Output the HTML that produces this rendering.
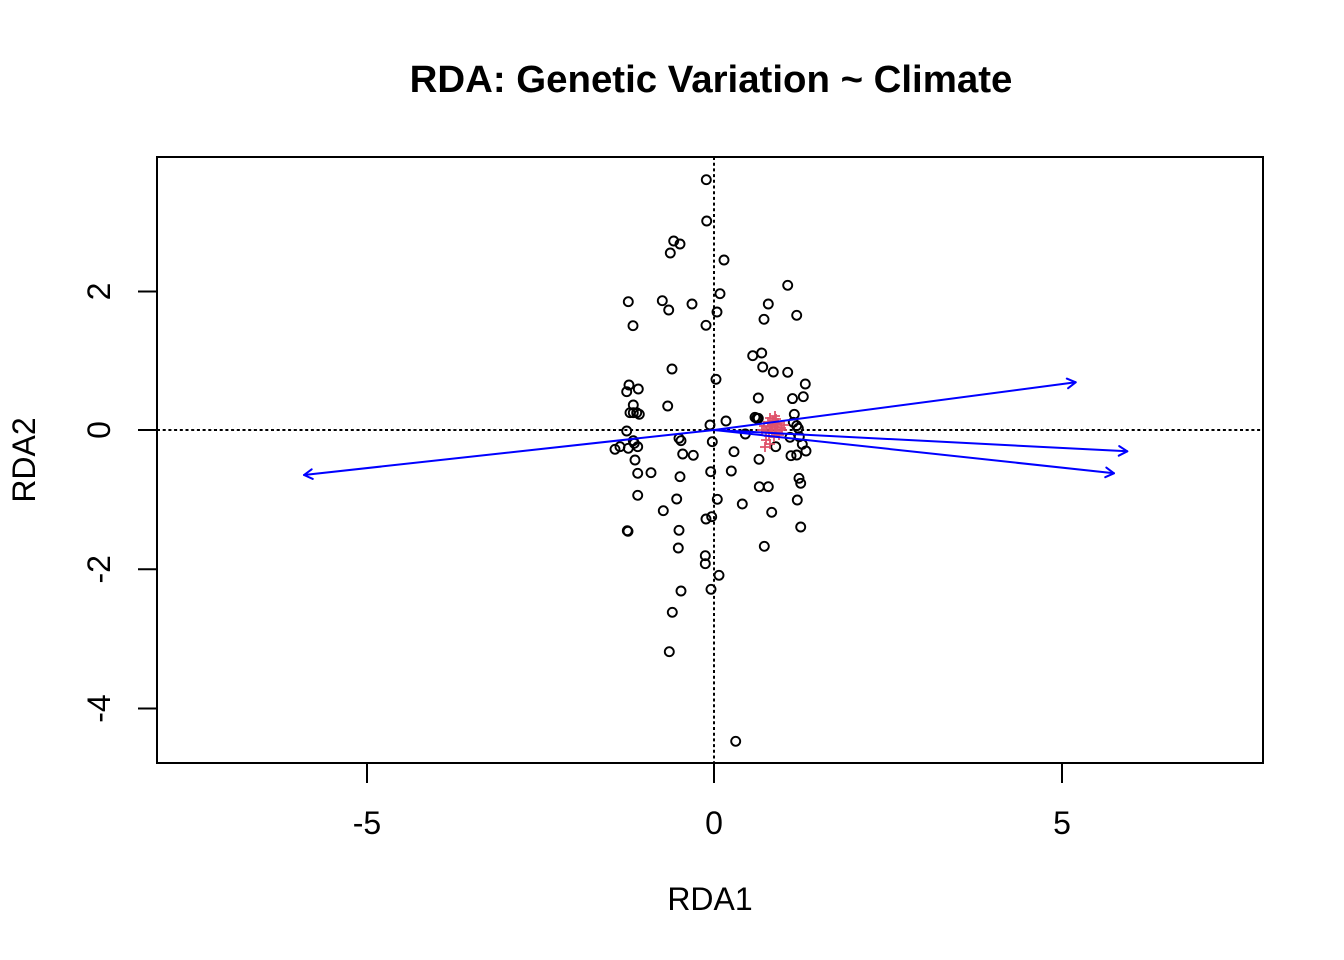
<!DOCTYPE html>
<html>
<head>
<meta charset="utf-8">
<style>
  html, body { margin: 0; padding: 0; background: #ffffff; }
  svg { display: block; }
  text { font-family: "Liberation Sans", Arial, sans-serif; fill: #000; }
</style>
</head>
<body>
<svg width="1344" height="960" viewBox="0 0 1344 960" xmlns="http://www.w3.org/2000/svg">
  <rect x="0" y="0" width="1344" height="960" fill="#ffffff"/>

  <text x="711" y="92" font-size="38.4" font-weight="bold" text-anchor="middle">RDA: Genetic Variation ~ Climate</text>

  <g stroke="#000" stroke-width="2" stroke-dasharray="3 2.7" fill="none">
    <line x1="157" y1="430" x2="1263" y2="430"/>
    <line x1="714" y1="157" x2="714" y2="763"/>
  </g>

  <g fill="none" stroke="#000" stroke-width="1.9">
    <circle cx="706.3" cy="179.7" r="4.5"/>
    <circle cx="706.7" cy="221" r="4.5"/>
    <circle cx="673.7" cy="241" r="4.5"/>
    <circle cx="680" cy="244" r="4.5"/>
    <circle cx="670.3" cy="253" r="4.5"/>
    <circle cx="724" cy="260" r="4.5"/>
    <circle cx="787.7" cy="285.3" r="4.5"/>
    <circle cx="628.3" cy="301.7" r="4.5"/>
    <circle cx="662.3" cy="300.7" r="4.5"/>
    <circle cx="668.7" cy="310" r="4.5"/>
    <circle cx="692" cy="304" r="4.5"/>
    <circle cx="720" cy="293.7" r="4.5"/>
    <circle cx="717" cy="312" r="4.5"/>
    <circle cx="768.3" cy="304" r="4.5"/>
    <circle cx="764" cy="319.3" r="4.5"/>
    <circle cx="796.7" cy="315.3" r="4.5"/>
    <circle cx="633" cy="325.7" r="4.5"/>
    <circle cx="706" cy="325.3" r="4.5"/>
    <circle cx="752.7" cy="355.7" r="4.5"/>
    <circle cx="761.7" cy="353" r="4.5"/>
    <circle cx="672" cy="369" r="4.5"/>
    <circle cx="716" cy="379.3" r="4.5"/>
    <circle cx="762.7" cy="367" r="4.5"/>
    <circle cx="773.3" cy="372" r="4.5"/>
    <circle cx="787.7" cy="372.3" r="4.5"/>
    <circle cx="805.3" cy="384" r="4.5"/>
    <circle cx="803.3" cy="396.7" r="4.5"/>
    <circle cx="792.5" cy="398.6" r="4.5"/>
    <circle cx="758.3" cy="398" r="4.5"/>
    <circle cx="629" cy="385" r="4.5"/>
    <circle cx="626.7" cy="391.7" r="4.5"/>
    <circle cx="638.3" cy="389" r="4.5"/>
    <circle cx="633.3" cy="405" r="4.5"/>
    <circle cx="667.7" cy="406" r="4.5"/>
    <circle cx="630" cy="412.7" r="4.5"/>
    <circle cx="633.3" cy="412.7" r="4.5"/>
    <circle cx="636.7" cy="412.7" r="4.5"/>
    <circle cx="639.3" cy="414.3" r="4.5"/>
    <circle cx="726" cy="421" r="4.5"/>
    <circle cx="755" cy="417.3" r="4.5"/>
    <circle cx="756.7" cy="418.3" r="4.5"/>
    <circle cx="758.3" cy="418.3" r="4.5"/>
    <circle cx="794.3" cy="414.3" r="4.5"/>
    <circle cx="793.3" cy="422.3" r="4.5"/>
    <circle cx="796.7" cy="425.7" r="4.5"/>
    <circle cx="798.3" cy="428.3" r="4.5"/>
    <circle cx="626.7" cy="431" r="4.5"/>
    <circle cx="710" cy="425" r="4.5"/>
    <circle cx="633.3" cy="440.7" r="4.5"/>
    <circle cx="634.3" cy="443.3" r="4.5"/>
    <circle cx="679" cy="438.3" r="4.5"/>
    <circle cx="681" cy="440.7" r="4.5"/>
    <circle cx="745.3" cy="434" r="4.5"/>
    <circle cx="712.3" cy="441.7" r="4.5"/>
    <circle cx="790" cy="437.3" r="4.5"/>
    <circle cx="799.3" cy="436.7" r="4.5"/>
    <circle cx="615" cy="449.3" r="4.5"/>
    <circle cx="620" cy="446.7" r="4.5"/>
    <circle cx="628.3" cy="448.3" r="4.5"/>
    <circle cx="637.7" cy="446.7" r="4.5"/>
    <circle cx="775.7" cy="446.7" r="4.5"/>
    <circle cx="802.3" cy="444.3" r="4.5"/>
    <circle cx="682.7" cy="454" r="4.5"/>
    <circle cx="693.3" cy="455.3" r="4.5"/>
    <circle cx="734" cy="451.7" r="4.5"/>
    <circle cx="759" cy="459.3" r="4.5"/>
    <circle cx="791" cy="455.7" r="4.5"/>
    <circle cx="796.7" cy="455" r="4.5"/>
    <circle cx="806" cy="451" r="4.5"/>
    <circle cx="635" cy="460" r="4.5"/>
    <circle cx="637.7" cy="473.3" r="4.5"/>
    <circle cx="651" cy="472.7" r="4.5"/>
    <circle cx="680" cy="476.7" r="4.5"/>
    <circle cx="710.7" cy="471.7" r="4.5"/>
    <circle cx="731.3" cy="471" r="4.5"/>
    <circle cx="759.3" cy="486.7" r="4.5"/>
    <circle cx="768.3" cy="486.7" r="4.5"/>
    <circle cx="799" cy="478.3" r="4.5"/>
    <circle cx="800.7" cy="483.3" r="4.5"/>
    <circle cx="637.7" cy="495.3" r="4.5"/>
    <circle cx="676.7" cy="499" r="4.5"/>
    <circle cx="717.3" cy="499.3" r="4.5"/>
    <circle cx="742.3" cy="504" r="4.5"/>
    <circle cx="797.3" cy="500" r="4.5"/>
    <circle cx="663.3" cy="510.7" r="4.5"/>
    <circle cx="706" cy="519" r="4.5"/>
    <circle cx="711.7" cy="516.7" r="4.5"/>
    <circle cx="771.7" cy="512.3" r="4.5"/>
    <circle cx="800.7" cy="527" r="4.5"/>
    <circle cx="627.3" cy="530.7" r="4.5"/>
    <circle cx="628" cy="531.3" r="4.5"/>
    <circle cx="679" cy="530.3" r="4.5"/>
    <circle cx="678.3" cy="548" r="4.5"/>
    <circle cx="764.3" cy="546.3" r="4.5"/>
    <circle cx="705.3" cy="555.7" r="4.5"/>
    <circle cx="705.3" cy="563.7" r="4.5"/>
    <circle cx="719" cy="575.3" r="4.5"/>
    <circle cx="681" cy="591" r="4.5"/>
    <circle cx="711" cy="589.3" r="4.5"/>
    <circle cx="672.3" cy="612.3" r="4.5"/>
    <circle cx="669.3" cy="651.7" r="4.5"/>
    <circle cx="735.7" cy="741.3" r="4.5"/>
  </g>

  <g stroke="#DF536B" stroke-width="1.8" fill="none">
    <path d="M765 418h10M770 413v10"/>
    <path d="M770 416h10M775 411v10"/>
    <path d="M763 422h10M768 417v10"/>
    <path d="M768 421h10M773 416v10"/>
    <path d="M773 423h10M778 418v10"/>
    <path d="M759 426h10M764 421v10"/>
    <path d="M765 427h10M770 422v10"/>
    <path d="M770 427h10M775 422v10"/>
    <path d="M776 428h10M781 423v10"/>
    <path d="M761 431h10M766 426v10"/>
    <path d="M767 432h10M772 427v10"/>
    <path d="M772 433h10M777 428v10"/>
    <path d="M777 430h10M782 425v10"/>
    <path d="M764 436h10M769 431v10"/>
    <path d="M769 437h10M774 432v10"/>
    <path d="M774 435h10M779 430v10"/>
    <path d="M761 440h10M766 435v10"/>
    <path d="M765 444h10M770 439v10"/>
    <path d="M760 447h10M765 442v10"/>
    <path d="M767 425h10M772 420v10"/>
    <path d="M771 419h10M776 414v10"/>
    <path d="M757 430h10M762 425v10"/>
    <path d="M779 425h10M784 420v10"/>
    <path d="M770 430h10M775 425v10"/>
    <path d="M766 429h10M771 424v10"/>
    <path d="M772 424h10M777 419v10"/>
  </g>

  <g stroke="#0000FF" stroke-width="2" fill="none" stroke-linecap="round" stroke-linejoin="round">
    <line x1="714" y1="430" x2="1075.7" y2="382.3"/>
    <polyline points="1066.8,378.6 1075.7,382.3 1068.1,388.2"/>
    <line x1="714" y1="430" x2="304" y2="475"/>
    <polyline points="312.8,478.9 304,475 311.7,469.3"/>
    <line x1="714" y1="430" x2="1127.3" y2="451.3"/>
    <polyline points="1119.2,446.1 1127.3,451.3 1118.7,455.7"/>
    <line x1="714" y1="430" x2="1114" y2="473.3"/>
    <polyline points="1106.3,467.6 1114,473.3 1105.2,477.2"/>
  </g>

  <rect x="157" y="157" width="1106" height="606" fill="none" stroke="#000" stroke-width="2"/>

  <g stroke="#000" stroke-width="2">
    <line x1="367" y1="763" x2="367" y2="783"/>
    <line x1="714" y1="763" x2="714" y2="783"/>
    <line x1="1062" y1="763" x2="1062" y2="783"/>
  </g>
  <g font-size="32" text-anchor="middle">
    <text x="367" y="834">-5</text>
    <text x="714" y="834">0</text>
    <text x="1062" y="834">5</text>
  </g>
  <text x="710" y="910" font-size="32" text-anchor="middle">RDA1</text>

  <g stroke="#000" stroke-width="2">
    <line x1="138" y1="291.5" x2="157" y2="291.5"/>
    <line x1="138" y1="430" x2="157" y2="430"/>
    <line x1="138" y1="569.3" x2="157" y2="569.3"/>
    <line x1="138" y1="708.5" x2="157" y2="708.5"/>
  </g>
  <g font-size="32" text-anchor="middle">
    <text transform="translate(110,291.5) rotate(-90)">2</text>
    <text transform="translate(110,430) rotate(-90)">0</text>
    <text transform="translate(110,569.3) rotate(-90)">-2</text>
    <text transform="translate(110,708.5) rotate(-90)">-4</text>
  </g>
  <text transform="translate(35,460) rotate(-90)" font-size="32" text-anchor="middle">RDA2</text>
</svg>
</body>
</html>
